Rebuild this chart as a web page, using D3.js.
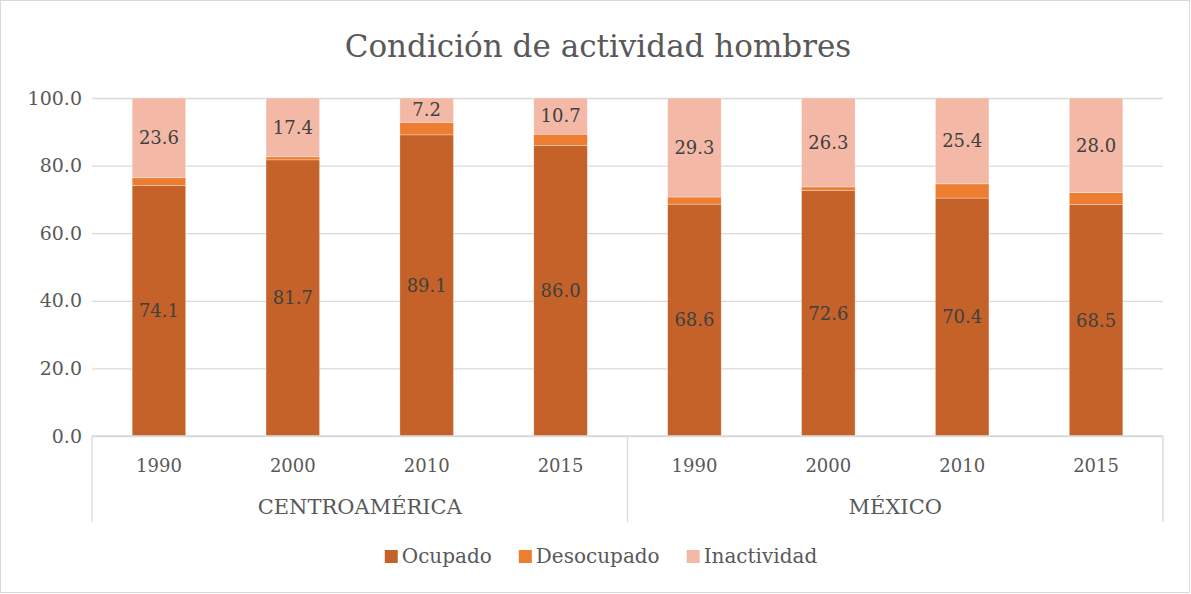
<!DOCTYPE html>
<html><head><meta charset="utf-8">
<script src="https://cdn.jsdelivr.net/npm/d3@7"></script>
<style>
body{margin:0;background:#fff;}
svg text{font-family:"DejaVu Serif",serif;}
</style></head>
<body>
<svg id="chart" width="1191" height="594"></svg>
<script>
const groups = ["CENTROAMÉRICA","MÉXICO"];
const years = ["1990","2000","2010","2015"];
const ocupado = [74.1, 81.7, 89.1, 86.0, 68.6, 72.6, 70.4, 68.5];
const desocupado = [2.3, 0.9, 3.7, 3.3, 2.1, 1.1, 4.2, 3.5];
const inactividad = [23.6, 17.4, 7.2, 10.7, 29.3, 26.3, 25.4, 28.0];
const seriesNames = ["Ocupado","Desocupado","Inactividad"];
const colors = ["#C4622A","#ED7D31","#F4B9A6"];
const yTicks = [0,20,40,60,80,100];

(function(){
const FF = "DejaVu Serif";
const svg = d3.select("#chart");
const W = 1191, H = 594;
svg.append("rect").attr("x",0.5).attr("y",0.5).attr("width",W-2).attr("height",H-2)
  .attr("fill","#fff").attr("stroke","#d9d9d9");

const pLeft = 92, pRight = 1163, pTop = 98, pBottom = 436;
const cats = [];
groups.forEach((g,gi)=>years.forEach((yy,yi)=>cats.push({g,y:yy,i:gi*years.length+yi})));
const x = d3.scaleBand().domain(cats.map(c=>c.i)).range([pLeft,pRight]).paddingInner(0.6).paddingOuter(0.3);
const y = d3.scaleLinear().domain([0,100]).range([pBottom,pTop]);

svg.append("text").attr("x",598).attr("y",57).attr("text-anchor","middle")
  .attr("font-family",FF).attr("fill","#595959").attr("font-size",31).text("Condición de actividad hombres");

const yAxis = d3.axisLeft(y).tickValues(yTicks).tickFormat(d3.format(".1f")).tickSize(-(pRight-pLeft)).tickPadding(10);
const gy = svg.append("g").attr("transform",`translate(${pLeft},0)`).call(yAxis).attr("font-family",FF);
gy.select(".domain").remove();
gy.selectAll(".tick line").attr("stroke","#d9d9d9").attr("stroke-width",1.3);
gy.selectAll(".tick text").attr("fill","#595959").attr("font-size",19).attr("x",-10);

const data = cats.map(c=>({i:c.i, Ocupado:ocupado[c.i], Desocupado:desocupado[c.i], Inactividad:inactividad[c.i]}));
const stack = d3.stack().keys(seriesNames)(data);
const color = d3.scaleOrdinal().domain(seriesNames).range(colors);

const layers = svg.append("g").selectAll("g").data(stack).join("g").attr("fill",d=>color(d.key));
layers.selectAll("rect").data(d=>d).join("rect")
  .attr("x",d=>x(d.data.i)).attr("width",x.bandwidth())
  .attr("y",d=>y(d[1])).attr("height",d=>y(d[0])-y(d[1]))
  .attr("stroke","#fff").attr("stroke-width",0.6).attr("stroke-opacity",0.5);

[0,2].forEach(si=>{
  const s = stack[si];
  svg.append("g").attr("font-family",FF).selectAll("text").data(s).join("text")
    .attr("x",d=>x(d.data.i)+x.bandwidth()/2)
    .attr("y",d=>(y(d[0])+y(d[1]))/2)
    .attr("dy","0.35em").attr("text-anchor","middle")
    .attr("fill","#404040").attr("font-size",18)
    .text(d=>d3.format(".1f")(d[1]-d[0]));
});

const ax = svg.append("g").attr("stroke","#d9d9d9").attr("stroke-width",1.3);
ax.append("line").attr("x1",pLeft).attr("x2",pRight).attr("y1",pBottom).attr("y2",pBottom);
const groupX = [pLeft, pLeft+(pRight-pLeft)/2, pRight];
groupX.forEach(gx=>ax.append("line").attr("x1",gx).attr("x2",gx).attr("y1",pBottom).attr("y2",522));

svg.append("g").attr("font-family",FF).selectAll("text").data(cats).join("text")
  .attr("x",c=>x(c.i)+x.bandwidth()/2).attr("y",472).attr("text-anchor","middle")
  .attr("fill","#595959").attr("font-size",18).text(c=>c.y);
svg.append("g").attr("font-family",FF).selectAll("text").data(groups).join("text")
  .attr("x",(g,gi)=>(groupX[gi]+groupX[gi+1])/2).attr("y",514).attr("text-anchor","middle")
  .attr("fill","#595959").attr("font-size",21).text(g=>g);

const legend = svg.append("g").attr("font-family",FF);
const items = [];
seriesNames.forEach((n,i)=>{
  const g = legend.append("g");
  g.append("rect").attr("x",0).attr("y",-6).attr("width",13).attr("height",13).attr("fill",colors[i]);
  const t = g.append("text").attr("x",17).attr("y",0).attr("dy","0.35em").attr("fill","#595959").attr("font-size",20).text(n);
  items.push({g, w: 17 + t.node().getComputedTextLength()});
});
const total = items.reduce((a,b)=>a+b.w,0) + 27*(items.length-1);
let cx = 601 - total/2;
items.forEach(it=>{ it.g.attr("transform",`translate(${cx},556)`); cx += it.w + 27; });
})();
</script>
</body></html>
